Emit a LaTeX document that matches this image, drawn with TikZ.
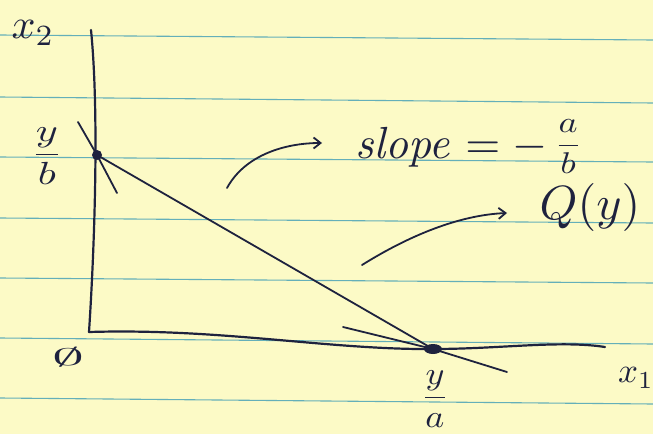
\documentclass[tikz,border=0pt]{standalone}
\usepackage{graphicx}
\usetikzlibrary{arrows.meta}
\definecolor{paper}{RGB}{252,250,198}
\definecolor{rulecol}{RGB}{100,175,185}
\definecolor{ink}{RGB}{30,34,62}
\tikzset{
  inkline/.style={draw=ink, line width=2.2pt, line cap=round, line join=round},
  thinink/.style={draw=ink, line width=1.8pt, line cap=round},
  pointer/.style={draw=ink, line width=1.8pt, line cap=round, -{Straight Barb[length=7pt,width=11pt,line width=1.8pt]}},
  lbl/.style={text=ink, inner sep=0pt},
  paperrule/.style={draw=rulecol, line width=1.1pt}
}
\begin{document}
\begin{tikzpicture}[x=1pt,y=-1pt]
\useasboundingbox (0,0) rectangle (653,434);
\fill[paper] (0,0) rectangle (653,434);
% ruled lines
\foreach \yl/\yr in {35/40, 97/103, 157/162, 218/223, 278/283, 338/344, 398/404}
  \draw[paperrule] (0,\yl) -- (653,\yr);
% points
\coordinate (top) at (91,30);
\coordinate (O) at (89,332);
\coordinate (A) at (97,155);
\coordinate (B) at (433,349);
\coordinate (xend) at (605,347);
% axes
\draw[inkline] (top) .. controls (99,110) and (95,240) .. (O);
\draw[inkline] (O) .. controls (220,328) and (330,350) .. (B) .. controls (500,349) and (560,340) .. (xend);
% line Q(y)
\draw[thinink] (A) -- (B);
% tangent strokes through the intercepts
\coordinate (t1a) at (78,122); \coordinate (t1b) at (117,193);
\coordinate (t2a) at (343,327); \coordinate (t2b) at (507,372);
\draw[thinink] (t1a) -- (A) -- (t1b);
\draw[thinink] (t2a) -- (B) -- (t2b);
% dots
\fill[ink] (A) ellipse (5pt and 5pt);
\fill[ink] (B) ellipse (9pt and 5pt);
% labels
\node[lbl] (x2) at (33,33) {\scalebox{4.2}{$x_2$}};
\node[lbl] (yb) at (47,156) {\scalebox{4.2}[3.2]{$\displaystyle\frac{y}{b}$}};
\node[lbl] (ya) at (435,399) {\scalebox{3.6}[3.2]{$\displaystyle\frac{y}{a}$}};
\node[lbl] (x1) at (636,378) {\scalebox{3.5}{$x_1$}};
\node[lbl] (zero) at (68,357) {\scalebox{6.5}[2.4]{$\emptyset$}};
\node[lbl, anchor=base west] (slope) at (355,158) {\scalebox{4.5}{$\mathit{slope} = -$}};
\node[lbl, anchor=west, xshift=6pt] (frac) at (slope.east) {\scalebox{3.6}[3]{$\displaystyle\frac{a}{b}$}};
\node[lbl] (Q) at (590,207) {\scalebox{4.8}{$Q(y)$}};
% pointers
\coordinate (p1s) at (227,188); \coordinate (p1e) at (322,143);
\coordinate (p2s) at (362,265); \coordinate (p2e) at (507,213);
\draw[pointer] (p1s) .. controls (245,155) and (285,143) .. (p1e);
\draw[pointer] (p2s) .. controls (410,235) and (460,215) .. (p2e);
\end{tikzpicture}
\end{document}
